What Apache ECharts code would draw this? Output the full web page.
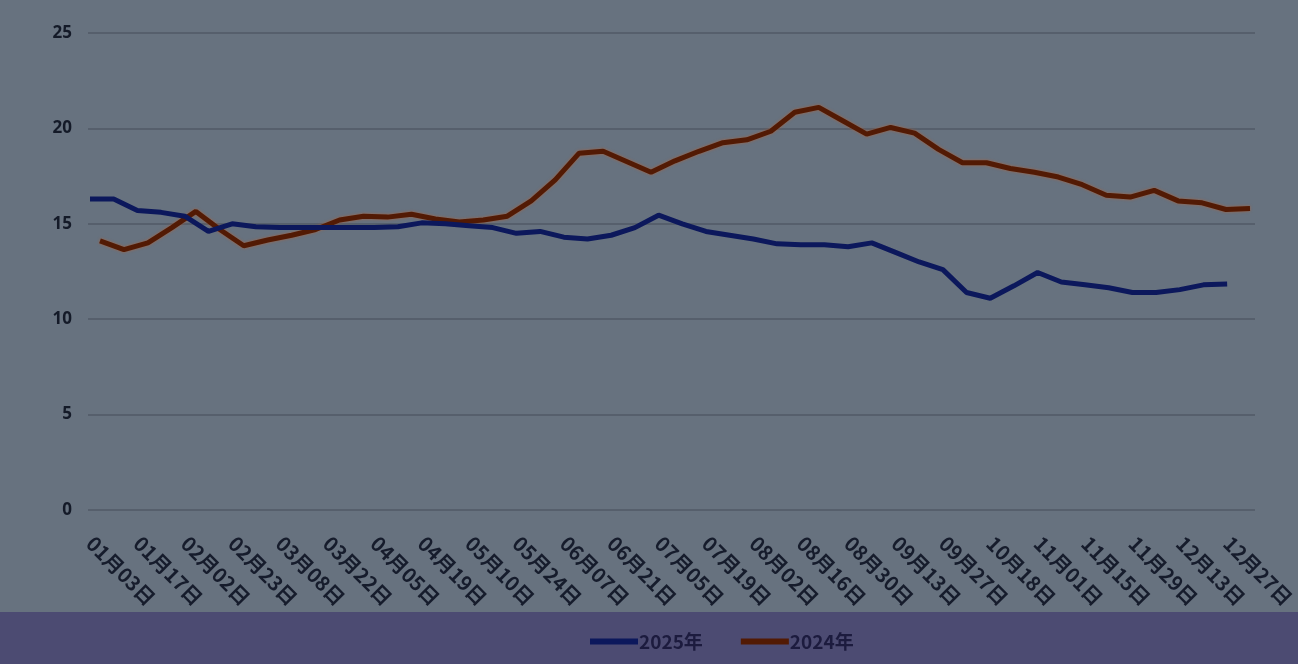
<!DOCTYPE html>
<html>
<head>
<meta charset="utf-8">
<script src="https://cdn.jsdelivr.net/npm/echarts@6/dist/echarts.min.js"></script>
<style>
html,body{margin:0;padding:0;background:#67727f;}
#main{width:1298px;height:664px;}
</style>
</head>
<body>
<div id="main"></div>
<script>
const categories = ['01月03日','01月10日','01月17日','01月24日','02月02日','02月15日','02月23日','03月01日','03月08日','03月15日','03月22日','03月29日','04月05日','04月12日','04月19日','04月26日','05月10日','05月17日','05月24日','05月31日','06月07日','06月14日','06月21日','06月28日','07月05日','07月12日','07月19日','07月26日','08月02日','08月09日','08月16日','08月23日','08月30日','09月06日','09月13日','09月20日','09月27日','10月11日','10月18日','10月25日','11月01日','11月08日','11月15日','11月22日','11月29日','12月06日','12月13日','12月20日','12月27日'];
const series2025 = [16.3,16.3,15.7,15.6,15.4,14.6,15.0,14.85,14.8,14.8,14.8,14.8,14.8,14.85,15.05,15.0,14.9,14.8,14.5,14.6,14.3,14.2,14.4,14.8,15.45,15.0,14.6,14.4,14.2,13.95,13.9,13.9,13.8,14.0,13.5,13.0,12.6,11.4,11.1,11.75,12.45,11.95,11.8,11.65,11.4,11.4,11.55,11.8,11.85];
const series2024 = [14.1,13.65,14.0,14.8,15.65,14.7,13.85,14.15,14.4,14.7,15.2,15.4,15.35,15.5,15.25,15.1,15.2,15.4,16.2,17.3,18.7,18.8,18.25,17.7,18.3,18.8,19.25,19.4,19.85,20.85,21.1,20.4,19.7,20.05,19.75,18.9,18.2,18.2,17.9,17.7,17.45,17.05,16.5,16.4,16.75,16.2,16.1,15.75,15.8];
const yTicks = [0,5,10,15,20,25];
const legendNames = ['2025年','2024年'];

const chart = echarts.init(document.getElementById('main'), null, {renderer:'canvas'});
const yMin = yTicks[0], yMax = yTicks[yTicks.length-1], yStep = yTicks[1]-yTicks[0];
const option = {
  backgroundColor: '#67727f',
  animation: false,
  graphic: [{
    type: 'rect', left: 0, top: 612, z: -10,
    shape: {width: 1298, height: 52},
    style: {fill: '#4c4b72'}
  }],
  legend: {
    data: legendNames,
    top: 627,
    left: 585,
    itemWidth: 48,
    itemHeight: 6,
    itemGap: 38,
    icon: 'rect',
    textStyle: {color: '#1c1b3e', fontSize: 19, fontWeight: 'bold', fontFamily: 'Noto Sans CJK SC', padding: [0,0,0,-4]}
  },
  grid: [
    {left: 90, right: 61, top: 33, bottom: 154},
    {left: 100, right: 48, top: 33, bottom: 154},
    {left: 88, right: 43, top: 33, bottom: 154}
  ],
  xAxis: [
    {
      gridIndex: 0, type: 'category', data: categories, boundaryGap: false,
      axisLine: {show: false}, axisTick: {show: false},
      axisLabel: {interval: 1, rotate: -45, margin: 30, color: '#161c2c', fontSize: 20, fontWeight: 'bold', fontFamily: 'Noto Sans CJK SC'}
    },
    {gridIndex: 1, type: 'category', data: categories, boundaryGap: false, show: false},
    {gridIndex: 2, type: 'category', data: categories, boundaryGap: false, show: false}
  ],
  yAxis: [
    {gridIndex: 0, type: 'value', min: yMin, max: yMax, interval: yStep, show: false},
    {gridIndex: 1, type: 'value', min: yMin, max: yMax, interval: yStep, show: false},
    {
      gridIndex: 2, type: 'value', min: yMin, max: yMax, interval: yStep,
      axisLine: {show: false}, axisTick: {show: false},
      axisLabel: {margin: 16, color: '#141a28', fontSize: 17, fontWeight: 'bold', fontFamily: 'Open Sans'},
      splitLine: {lineStyle: {color: '#505a66', width: 1.5}}
    }
  ],
  series: [
    {
      name: legendNames[0], type: 'line', xAxisIndex: 0, yAxisIndex: 0,
      data: series2025, showSymbol: false, symbol: 'none',
      lineStyle: {color: '#0c185c', width: 5},
      itemStyle: {color: '#0c185c'}, z: 3
    },
    {
      name: legendNames[1], type: 'line', xAxisIndex: 1, yAxisIndex: 1,
      data: series2024, showSymbol: false, symbol: 'none',
      lineStyle: {color: '#521a04', width: 5, shadowColor: 'rgba(200,90,30,0.6)', shadowBlur: 3},
      itemStyle: {color: '#521a04'}, z: 2
    }
  ]
};
chart.setOption(option);
</script>
</body>
</html>
